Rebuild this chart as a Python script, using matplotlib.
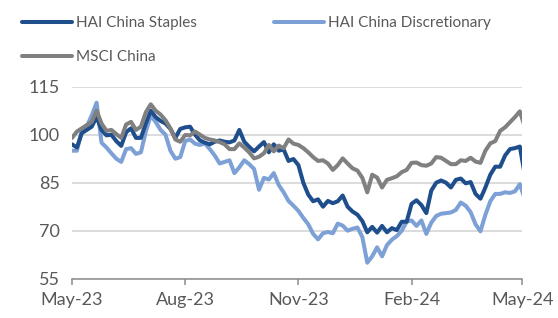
import matplotlib
matplotlib.use("Agg")
import matplotlib.pyplot as plt
import pandas as pd

# ---- data (index levels, sampled every 4 days) ----
dates = pd.date_range("2023-05-01", periods=93, freq="4D")

staples = [97, 96, 100.5, 101.5, 102.5, 105.5, 101.5, 99.8, 100, 98,
           96.5, 100.8, 102, 99, 99, 103.5, 107.5, 105.5, 104.3, 103.5,
           101.8, 99, 101.8, 102.3, 102.5, 100, 98.2, 97.5, 97, 97.8,
           98.2, 97.8, 97.6, 98.2, 101.5, 97.8, 96.2, 94.8, 96.3, 97.7,
           94.5, 97, 95, 95.4, 91.8, 92.4, 90.5, 85, 81.3, 79.2,
           79.8, 77.5, 79.3, 78.6, 79.2, 81, 77.5, 76, 75, 73,
           69.5, 71.2, 69.4, 71.5, 69.5, 70.8, 70.2, 72.8, 72.8, 78.4,
           79.5, 78, 75.5, 82.5, 85, 85.7, 85, 83.5, 85.9, 86.3,
           84.8, 85.2, 81.5, 80, 83.5, 87.5, 90, 90, 93.5, 95.5,
           95.8, 96.3, 87.5]

discretionary = [95, 95, 101.5, 102.5, 106, 110, 97.5, 96, 94.2, 92.5,
                 91.5, 95.5, 95.8, 94, 94.5, 101, 106, 104, 101.5, 100,
                 95, 92.5, 93, 98, 98.5, 97.2, 96.8, 97.3, 95.5, 93.5,
                 91, 91.5, 92, 88, 89.8, 92, 90.8, 89.3, 82.8, 86.5,
                 86, 88, 84.3, 82, 79.3, 77.8, 76.2, 74, 72, 69,
                 67.3, 69.2, 69.6, 69.2, 72.2, 71.6, 70, 70.6, 71, 68,
                 60, 62, 64.8, 62, 65.5, 67.2, 68.3, 70, 72.8, 73.2,
                 71.5, 73.2, 69, 72.5, 74.6, 75.3, 75.5, 75.7, 76.5, 78.8,
                 77.8, 75.8, 72, 69.8, 75, 79.2, 81.5, 81.5, 82, 81.8,
                 82.3, 84.5, 80]

msci = [99, 101, 102, 103, 104, 107.5, 103.5, 101.2, 101.5, 100.2,
        99, 103.2, 104, 101.5, 102.5, 107, 109.5, 107.5, 106.3, 104.5,
        102, 98.5, 97.8, 99.9, 99.8, 101, 100, 99, 98.5, 98.2,
        97.7, 97, 95.5, 95.5, 97.3, 96, 94.5, 92.6, 93.1, 94.2,
        96.8, 94.8, 96.6, 95.8, 98.5, 97.2, 96.8, 95.8, 94.5, 93,
        91.8, 92, 91, 89, 90.5, 92.6, 91, 89.5, 88.8, 86.5,
        82, 87.5, 86.6, 83.5, 85.9, 86.4, 87, 88.3, 89, 91.2,
        91.3, 90.5, 90.3, 91, 93, 92.8, 91.8, 90.8, 90.8, 92,
        91.8, 92.8, 91.6, 91.2, 95, 97.3, 98, 101.2, 102.3, 103.9,
        105.5, 107.3, 102.5]

series_names = ["HAI China Staples", "HAI China Discretionary", "MSCI China"]
tick_dates = ["2023-05-01", "2023-08-01", "2023-11-01", "2024-02-01", "2024-05-01"]
tick_labels = ["May-23", "Aug-23", "Nov-23", "Feb-24", "May-24"]
y_ticks = [55, 70, 85, 100, 115]

# ---- style ----
FONT = "Lato"
TXT = "#595959"
c_staples = "#1F4E8C"
c_disc = "#7DA0D6"
c_msci = "#808080"
LW = 2.9

fig = plt.figure(figsize=(5.58, 3.18), dpi=100)
ax = fig.add_axes([72 / 558, 1 - 278.7 / 318, (522.3 - 72) / 558, (278.7 - 86.7) / 318])

l1, = ax.plot(dates, staples, color=c_staples, lw=LW, solid_joinstyle="round",
              solid_capstyle="round", label=series_names[0], zorder=3)
l2, = ax.plot(dates, discretionary, color=c_disc, lw=LW, solid_joinstyle="round",
              solid_capstyle="round", label=series_names[1], zorder=2)
l3, = ax.plot(dates, msci, color=c_msci, lw=LW, solid_joinstyle="round",
              solid_capstyle="round", label=series_names[2], zorder=4)

ax.set_xlim(pd.Timestamp("2023-05-01"), pd.Timestamp("2024-05-01"))
ax.set_ylim(55, 115)
ax.set_yticks(y_ticks)
ax.set_xticks([pd.Timestamp(d) for d in tick_dates])
ax.set_xticklabels(tick_labels)

ax.grid(axis="y", color="#D9D9D9", lw=1.3, zorder=0)
ax.set_axisbelow(True)
for s in ["top", "right", "left"]:
    ax.spines[s].set_visible(False)
ax.spines["bottom"].set_color("#8C8C8C")
ax.spines["bottom"].set_linewidth(1.1)

ax.tick_params(axis="y", length=0, pad=9, labelsize=13, labelcolor=TXT)
ax.tick_params(axis="x", length=4.5, width=1.1, color="#8C8C8C", direction="out",
               pad=5, labelsize=13, labelcolor=TXT)
for lab in ax.get_xticklabels() + ax.get_yticklabels():
    lab.set_fontfamily(FONT)

leg = ax.legend([l1, l3, l2], [series_names[0], series_names[2], series_names[1]],
                ncol=2, loc="upper left", bbox_to_anchor=(22 / 558, 1 - 16 / 318),
                bbox_transform=fig.transFigure, frameon=False, borderpad=0,
                borderaxespad=0, handlelength=3.3, handletextpad=0.25,
                labelspacing=1.3, columnspacing=5.0,
                prop={"family": FONT, "size": 11})
for t in leg.get_texts():
    t.set_color(TXT)
for h in leg.legend_handles:
    h.set_linewidth(LW)
    h.set_solid_capstyle("round")

fig.savefig("out.png", dpi=100)
